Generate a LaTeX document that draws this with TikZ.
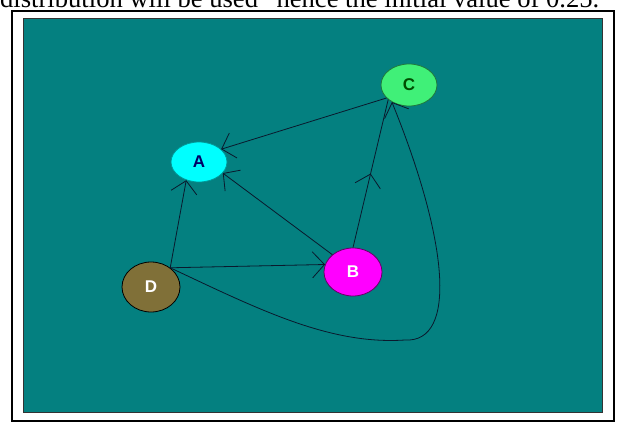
\documentclass[tikz,border=0pt]{standalone}
\usepackage{fontspec}
\setmainfont{Liberation Serif}
\setsansfont{Liberation Sans}
\usetikzlibrary{calc}
\usetikzlibrary{shapes}
\usetikzlibrary{arrows.meta}
\usetikzlibrary{decorations.markings}

\definecolor{tealbg}{RGB}{4,128,128}
\definecolor{nodeA}{RGB}{0,255,255}
\definecolor{nodeC}{RGB}{64,240,120}
\definecolor{nodeB}{RGB}{255,0,255}
\definecolor{nodeD}{RGB}{128,112,56}
\definecolor{edgecol}{RGB}{10,25,45}

\begin{document}
\begin{tikzpicture}[x=1pt, y=-1pt]
    \tikzset{
        vertex/.style={ellipse, draw, line width=0.8pt, minimum width=56pt, minimum height=40pt, inner sep=0pt, font=\sffamily\bfseries\fontsize{17}{17}\selectfont},
        barb/.style={-{Straight Barb[length=12pt, width=26pt]}},
        link/.style={edgecol, line width=0.8pt, barb},
        midlink/.style={edgecol, line width=0.8pt, postaction={decorate}, decoration={markings, mark=at position 0.5 with {\arrow{Straight Barb[length=12pt, width=26pt]}}}}
    }

    % Page area
    \useasboundingbox (0,0) rectangle (619,423);
    \clip (0,0) rectangle (619,423);

    % Line of text cut off above the picture
    \node [anchor=base west, inner sep=0pt, font=\fontsize{26.6}{27}\selectfont] (caption) at (0,8) {distribution will be used” hence the initial value of 0.25.};

    % Frame
    \draw [line width=2.5pt, fill=white] (12,11) rectangle (614,421);
    \draw [fill=tealbg, draw=black!80, line width=1pt] (23,18) rectangle (602,412);

    % Vertices
    \node [vertex, fill=nodeA, draw=nodeA!60!black, text=blue!40!black] (A) at (199,162) {A};
    \node [vertex, fill=nodeC, draw=nodeC!50!black, text=green!30!black, minimum height=42pt] (C) at (409,85) {C};
    \node [vertex, fill=nodeB, draw=nodeB!40!black, text=white, minimum width=58pt, minimum height=48pt] (B) at (353,272) {B};
    \node [vertex, fill=nodeD, draw=black, text=white, minimum width=58pt, minimum height=50pt] (D) at (151,287) {D};

    % Edges
    \draw [link] (D.45) -- (A.235);
    \draw [link] (D.45) -- (B.165);
    \draw [link] (B.140) -- (A.-25);
    \draw [link] (C.210) -- (A.30);
    \draw [midlink] (B.north) -- (C.215);

    % Long edge D -> C round the right of B
    \coordinate (bend) at (405,340);
    \draw [link] (D.45) .. controls (260,310) and (330,345) .. (bend) .. controls (458,343) and (448,240) .. (C.225);

\end{tikzpicture}
\end{document}
